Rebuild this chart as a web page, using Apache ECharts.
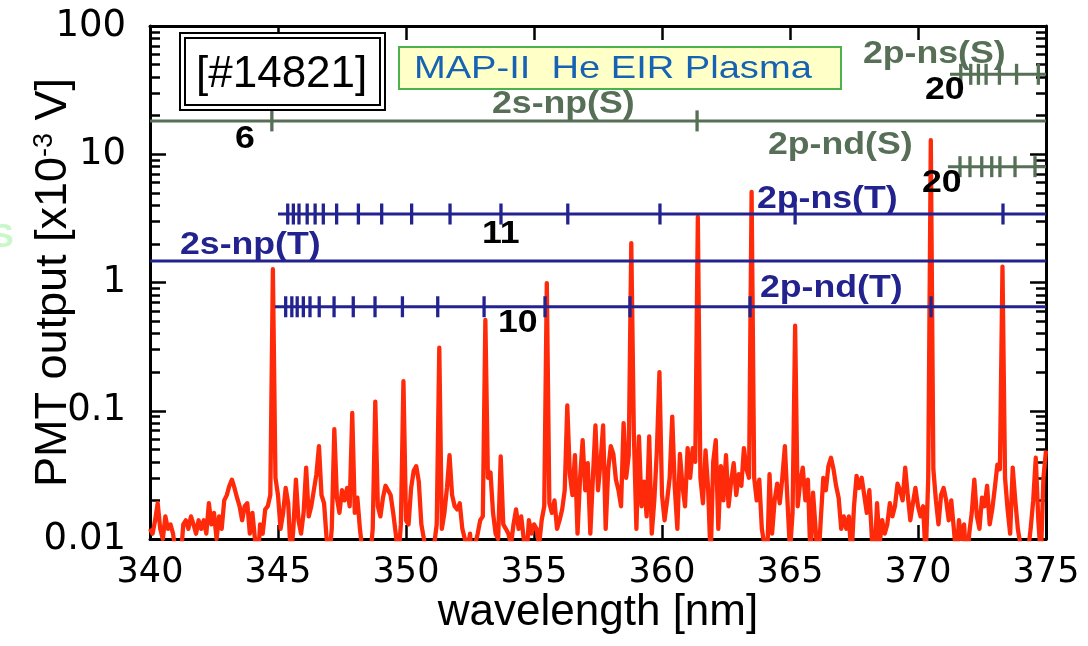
<!DOCTYPE html>
<html>
<head>
<meta charset="utf-8">
<script src="https://cdn.jsdelivr.net/npm/echarts@6.0.0/dist/echarts.min.js"></script>
<style>
  html, body { margin: 0; padding: 0; background: #fff; }
  #chart { width: 1088px; height: 646px; }
</style>
</head>
<body>
<div id="chart"></div>
<script>
// PMT spectrum, sampled every 0.1 nm from 340.0 nm (values in x10^-3 V)
const wlStart = 340;
const wlStep = 0.1;
const pmtOutput = [
  0.012, 0.011, 0.014, 0.019, 0.012, 0.010, 0.015, 0.012, 0.013, 0.011,
  0.008, 0.006, 0.007, 0.013, 0.014, 0.012, 0.015, 0.013, 0.011, 0.014,
  0.012, 0.014, 0.011, 0.019, 0.013, 0.016, 0.010, 0.015, 0.012, 0.020,
  0.022, 0.026, 0.029, 0.025, 0.021, 0.018, 0.014, 0.018, 0.019, 0.011,
  0.016, 0.010, 0.006, 0.013, 0.011, 0.017, 0.018, 0.022, 1.27, 0.030,
  0.022, 0.012, 0.016, 0.025, 0.019, 0.007, 0.012, 0.029, 0.014, 0.011,
  0.016, 0.036, 0.015, 0.018, 0.024, 0.032, 0.053, 0.022, 0.019, 0.010,
  0.007, 0.012, 0.072, 0.021, 0.016, 0.024, 0.020, 0.025, 0.018, 0.096,
  0.016, 0.021, 0.012, 0.008, 0.006, 0.009, 0.007, 0.012, 0.118, 0.018,
  0.015, 0.021, 0.026, 0.024, 0.022, 0.016, 0.011, 0.007, 0.013, 0.170,
  0.014, 0.013, 0.025, 0.034, 0.037, 0.028, 0.013, 0.010, 0.007, 0.006,
  0.008, 0.009, 0.013, 0.310, 0.012, 0.016, 0.025, 0.045, 0.022, 0.018,
  0.017, 0.019, 0.012, 0.010, 0.008, 0.011, 0.006, 0.009, 0.011, 0.014,
  0.015, 0.510, 0.030, 0.033, 0.016, 0.011, 0.010, 0.044, 0.013, 0.012,
  0.011, 0.009, 0.013, 0.017, 0.012, 0.015, 0.010, 0.007, 0.014, 0.011,
  0.013, 0.012, 0.009, 0.014, 0.018, 0.990, 0.019, 0.016, 0.020, 0.012,
  0.014, 0.017, 0.024, 0.110, 0.032, 0.022, 0.045, 0.011, 0.030, 0.059,
  0.024, 0.039, 0.011, 0.030, 0.077, 0.024, 0.040, 0.077, 0.012, 0.035,
  0.053, 0.046, 0.029, 0.024, 0.018, 0.080, 0.030, 0.045, 2.03, 0.067,
  0.012, 0.063, 0.018, 0.028, 0.015, 0.063, 0.011, 0.020, 0.049, 0.200,
  0.022, 0.014, 0.020, 0.030, 0.090, 0.025, 0.012, 0.046, 0.026, 0.018,
  0.051, 0.030, 0.051, 0.040, 3.24, 0.030, 0.019, 0.049, 0.025, 0.007,
  0.040, 0.059, 0.012, 0.037, 0.020, 0.045, 0.018, 0.028, 0.039, 0.022,
  0.032, 0.026, 0.051, 0.035, 0.030, 5.08, 0.030, 0.020, 0.029, 0.012,
  0.009, 0.006, 0.032, 0.011, 0.020, 0.027, 0.019, 0.030, 0.053, 0.020,
  0.008, 0.016, 0.460, 0.018, 0.028, 0.036, 0.020, 0.029, 0.007, 0.023,
  0.012, 0.006, 0.014, 0.030, 0.024, 0.037, 0.043, 0.035, 0.026, 0.021,
  0.012, 0.015, 0.012, 0.015, 0.007, 0.018, 0.031, 0.025, 0.030, 0.022,
  0.016, 0.024, 0.010, 0.007, 0.019, 0.009, 0.014, 0.011, 0.013, 0.019,
  0.015, 0.018, 0.027, 0.024, 0.020, 0.036, 0.022, 0.014, 0.019, 0.025,
  0.018, 0.015, 0.018, 0.007, 0.030, 12.9, 0.035, 0.020, 0.013, 0.022,
  0.025, 0.020, 0.014, 0.020, 0.012, 0.007, 0.014, 0.010, 0.013, 0.006,
  0.011, 0.016, 0.029, 0.015, 0.012, 0.021, 0.018, 0.026, 0.013, 0.017,
  0.025, 0.038, 0.035, 1.33, 0.030, 0.017, 0.011, 0.036, 0.020, 0.012,
  0.009, 0.007, 0.006, 0.008, 0.012, 0.020, 0.043, 0.014, 0.007, 0.030, 0.049
];

// Rydberg series markers: level (y) and start wavelength of each line
const seriesNames = ['2s-np(S)', '2p-ns(S)', '2p-nd(S)', '2p-ns(T)', '2s-np(T)', '2p-nd(T)'];
const seriesLevels = [18.2, 42.0, 8.0, 3.42, 1.47, 0.647];
const seriesStarts = [340, 371.25, 371.17, 345.0, 340, 344.88];
const seriesEnd = 375;

// tick wavelengths on each marker line [nm]
const ticks2snpS = [344.76, 361.37];
const ticks2pnsS = [371.67, 372.06, 372.36, 372.66, 373.18, 373.85, 374.70];
const ticks2pndS = [371.64, 372.03, 372.49, 372.88, 373.20, 373.79, 374.57];
const ticks2pnsT = [345.38, 345.60, 345.82, 346.14, 346.45, 346.77, 347.29, 348.14,
  349.05, 350.22, 351.72, 353.71, 356.32, 359.92, 365.20, 373.32];
const ticks2snpT = [];
const ticks2pndT = [345.30, 345.54, 345.75, 345.99, 346.25, 346.61, 347.19, 347.94,
  348.79, 349.86, 351.24, 353.05, 355.43, 358.75, 363.44, 370.51];
const seriesTicks = [ticks2snpS, ticks2pnsS, ticks2pndS, ticks2pnsT, ticks2snpT, ticks2pndT];

// minor ticks of log y axis
const yMinorTicks = [
  0.02, 0.03, 0.04, 0.05, 0.06, 0.07, 0.08, 0.09,
  0.2, 0.3, 0.4, 0.5, 0.6, 0.7, 0.8, 0.9,
  2, 3, 4, 5, 6, 7, 8, 9,
  20, 30, 40, 50, 60, 70, 80, 90
];

const GREEN = '#566f56';
const BLUE = '#232390';
const RED = '#ff2a0a';

const chart = echarts.init(document.getElementById('chart'), null, { renderer: 'canvas' });

const spectrumData = pmtOutput.map((v, i) => [+(wlStart + i * wlStep).toFixed(2), v]);

const markerSeries = [];
seriesNames.forEach((name, k) => {
  const color = k < 3 ? GREEN : BLUE;
  markerSeries.push({
    name: name,
    type: 'line',
    data: [[seriesStarts[k], seriesLevels[k]], [seriesEnd, seriesLevels[k]]],
    showSymbol: false,
    symbol: 'none',
    lineStyle: { color: color, width: 3 },
    z: 5,
    silent: true
  });
  if (seriesTicks[k].length) {
    markerSeries.push({
      name: name + ' ticks',
      type: 'scatter',
      data: seriesTicks[k].map(w => [w, seriesLevels[k]]),
      symbol: 'rect',
      symbolSize: [3.3, 21],
      itemStyle: { color: color, opacity: 1 },
      z: 6,
      silent: true
    });
  }
});

const logBase = {
  type: 'log',
  logBase: 10,
  min: 0.01,
  max: 100,
  splitNumber: 4,
  splitLine: { show: false },
  axisLine: { show: true, lineStyle: { color: '#000', width: 3 } }
};
const valBase = {
  type: 'value',
  min: 340,
  max: 375,
  interval: 5,
  splitLine: { show: false },
  axisLine: { show: true, onZero: false, lineStyle: { color: '#000', width: 3 } },
  axisTick: { show: true, inside: true, length: 14, lineStyle: { color: '#000', width: 2.5 } }
};

// 文字标注
const boldFont = 'bold 31px "Liberation Sans", Arial, sans-serif';
const label = (text, x, y, color) => ({
  type: 'text', x: x, y: y, scaleX: 1.15, z: 50,
  style: {
    text: text, font: boldFont, fill: color,
    align: 'left', verticalAlign: 'middle',
    textAlign: 'left', textVerticalAlign: 'middle'
  }
});

const option = {
  animation: false,
  backgroundColor: '#fff',
  grid: { left: 150, right: 42, top: 26, bottom: 107, containLabel: false, outerBoundsMode: 'none' },
  xAxis: [
    Object.assign({}, valBase, {
      position: 'bottom',
      name: 'wavelength [nm]',
      nameLocation: 'middle',
      nameGap: 52,
      nameMoveOverlap: false,
      nameTextStyle: { fontFamily: '"Liberation Sans", Arial, sans-serif', fontSize: 44, color: '#000' },
      axisLabel: {
        show: true, margin: 16, color: '#000',
        fontFamily: '"DejaVu Sans", sans-serif', fontSize: 35,
        showMinLabel: true, showMaxLabel: true
      }
    }),
    Object.assign({}, valBase, { position: 'top', axisLabel: { show: false } })
  ],
  yAxis: [
    Object.assign({}, logBase, {
      position: 'left',
      axisTick: { show: true, inside: true, length: 16, lineStyle: { color: '#000', width: 2.5 } },
      axisLabel: {
        show: true, margin: 24, color: '#000',
        fontFamily: '"DejaVu Sans", sans-serif', fontSize: 37,
        formatter: v => String(+v.toPrecision(3))
      },
      name: '{a|PMT output [x10}{s|-3}{a| V]}',
      nameLocation: 'middle',
      nameRotate: 90,
      nameGap: 74,
      nameMoveOverlap: false,
      nameTextStyle: {
        rich: {
          a: { fontFamily: '"Liberation Sans", Arial, sans-serif', fontSize: 45, color: '#000' },
          s: { fontFamily: '"Liberation Sans", Arial, sans-serif', fontSize: 27, color: '#000', verticalAlign: 'top' }
        }
      }
    }),
    Object.assign({}, logBase, {
      position: 'left',
      axisLine: { show: false },
      axisTick: { show: true, inside: true, length: 10, customValues: yMinorTicks, lineStyle: { color: '#000', width: 2.5 } },
      axisLabel: { show: false }
    }),
    Object.assign({}, logBase, {
      position: 'right',
      axisTick: { show: true, inside: true, length: 16, lineStyle: { color: '#000', width: 2.5 } },
      axisLabel: { show: false }
    }),
    Object.assign({}, logBase, {
      position: 'right',
      axisLine: { show: false },
      axisTick: { show: true, inside: true, length: 10, customValues: yMinorTicks, lineStyle: { color: '#000', width: 2.5 } },
      axisLabel: { show: false }
    })
  ],
  series: [
    {
      name: 'PMT output',
      type: 'line',
      data: spectrumData,
      showSymbol: false,
      symbol: 'none',
      sampling: null,
      clip: true,
      lineStyle: { color: RED, width: 4.3, join: 'round' },
      z: 3,
      silent: true
    }
  ].concat(markerSeries),
  graphic: [
    // faint letter cut off at left edge
    { type: 'text', x: -9, y: 238, z: 1,
      style: { text: 'S', font: 'bold 34px "Liberation Sans", Arial', fill: '#c9f7c9', verticalAlign: 'middle', textVerticalAlign: 'middle' } },
    // shot number box (double frame)
    { type: 'rect', z: 40, shape: { x: 180, y: 33, width: 205, height: 77 }, style: { fill: '#fff', stroke: '#000', lineWidth: 2 } },
    { type: 'rect', z: 41, shape: { x: 185, y: 38, width: 195, height: 67 }, style: { fill: 'none', stroke: '#000', lineWidth: 2 } },
    { type: 'text', x: 196, y: 75, z: 42,
      style: { text: '[#14821]', font: '44px "Liberation Sans", Arial, sans-serif', fill: '#000',
        align: 'left', verticalAlign: 'middle', textAlign: 'left', textVerticalAlign: 'middle' } },
    // device box
    { type: 'rect', z: 40, shape: { x: 399, y: 47, width: 442, height: 42 }, style: { fill: '#ffffc8', stroke: '#4cb34c', lineWidth: 2 } },
    { type: 'text', x: 414, y: 69, z: 42, scaleX: 1.19,
      style: { text: 'MAP-II  He EIR Plasma', font: '32px "Liberation Sans", Arial, sans-serif', fill: '#1663b4',
        align: 'left', verticalAlign: 'middle', textAlign: 'left', textVerticalAlign: 'middle' } },
    label('2s-np(S)', 492, 104, GREEN),
    label('2p-ns(S)', 863, 54, GREEN),
    label('2p-nd(S)', 768, 145, GREEN),
    label('2p-ns(T)', 757, 199, BLUE),
    label('2s-np(T)', 180, 245, BLUE),
    label('2p-nd(T)', 760, 288, BLUE),
    label('6', 235, 139, '#000'),
    label('11', 482, 234, '#000'),
    label('10', 498, 323, '#000'),
    label('20', 925, 90, '#000'),
    label('20', 922, 183, '#000')
  ]
};

chart.setOption(option);
</script>
</body>
</html>
